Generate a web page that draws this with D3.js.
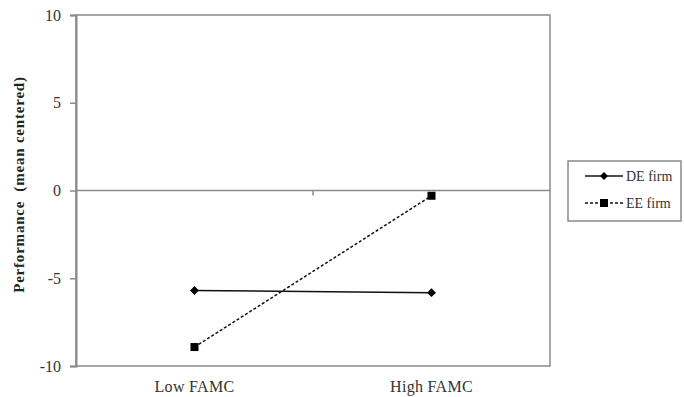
<!DOCTYPE html>
<html><head><meta charset="utf-8">
<script src="https://cdn.jsdelivr.net/npm/d3@7"></script>
<style>body{margin:0;background:#fff}svg{display:block}</style>
</head><body>
<svg id="c" width="684" height="397"></svg>
<script>
const categories = ["Low FAMC", "High FAMC"];
const seriesNames = ["DE firm", "EE firm"];
const deValues = [-5.7, -5.82];
const eeValues = [-8.92, -0.3];
const yTicks = [-10, -5, 0, 5, 10];

const svg = d3.select("#c");
const L = 76, R = 550, T = 15, B = 366;
const font = "Liberation Serif, Times New Roman, serif";
const x = d3.scalePoint().domain(categories).range([L, R]).padding(0.5);
const y = d3.scaleLinear().domain([-10, 10]).range([B, T]);
const axisCol = "#8a8a8a";

// plot border
svg.append("rect").attr("x", L).attr("y", T).attr("width", R - L).attr("height", B - T)
  .attr("fill", "none").attr("stroke", axisCol).attr("stroke-width", 1.5);

// y axis
const ya = svg.append("g").attr("transform", `translate(${L},0)`)
  .call(d3.axisLeft(y).tickValues(yTicks).tickSize(6).tickPadding(9).tickFormat(d => String(d)));
ya.select(".domain").attr("stroke", axisCol).attr("stroke-width", 2);
ya.selectAll(".tick line").attr("stroke", axisCol).attr("stroke-width", 1.5);
ya.selectAll("text").attr("font-family", font).attr("font-size", 16).attr("fill", "#333");

// zero line as category axis with ticks at category boundaries
svg.append("line").attr("x1", L).attr("x2", R).attr("y1", y(0)).attr("y2", y(0))
  .attr("stroke", axisCol).attr("stroke-width", 1.5);
const step = x.step();
svg.selectAll(".ctick").data(categories.slice(1)).enter().append("line")
  .attr("x1", d => x(d) - step / 2).attr("x2", d => x(d) - step / 2)
  .attr("y1", y(0)).attr("y2", y(0) + 5).attr("stroke", axisCol).attr("stroke-width", 1.5);

// category labels
svg.selectAll(".clab").data(categories).enter().append("text")
  .attr("x", d => x(d)).attr("y", 392).attr("text-anchor", "middle")
  .attr("font-family", font).attr("font-size", 16).attr("letter-spacing", 0.3).attr("fill", "#333")
  .text(d => d);

// y title
svg.append("text").attr("transform", `translate(24,${(T + B) / 2 - 6}) rotate(-90)`)
  .attr("text-anchor", "middle").attr("font-family", font).attr("font-size", 15)
  .attr("font-weight", "bold").attr("letter-spacing", 0.8).attr("fill", "#222")
  .style("white-space", "pre")
  .text("Performance  (mean centered)");

const line = d3.line().x((d, i) => x(categories[i])).y(d => y(d));

// DE firm
svg.append("path").attr("d", line(deValues)).attr("fill", "none").attr("stroke", "#111").attr("stroke-width", 1.5);
svg.selectAll(".de").data(deValues).enter().append("path")
  .attr("transform", (d, i) => `translate(${x(categories[i])},${y(d)})`)
  .attr("d", d3.symbol(d3.symbolDiamond2, 50)()).attr("fill", "#000");

// EE firm
svg.append("path").attr("d", line(eeValues)).attr("fill", "none").attr("stroke", "#111")
  .attr("stroke-width", 1.5).attr("stroke-dasharray", "3,2");
svg.selectAll(".ee").data(eeValues).enter().append("rect")
  .attr("x", (d, i) => x(categories[i]) - 4).attr("y", d => y(d) - 4)
  .attr("width", 8).attr("height", 8).attr("fill", "#000");

// legend
const lg = svg.append("g");
lg.append("rect").attr("x", 568).attr("y", 161).attr("width", 113).attr("height", 60)
  .attr("fill", "#fff").attr("stroke", axisCol).attr("stroke-width", 1.5);
seriesNames.forEach((s, i) => {
  const yy = 176 + i * 27;
  lg.append("line").attr("x1", 585).attr("x2", 623).attr("y1", yy).attr("y2", yy)
    .attr("stroke", "#111").attr("stroke-width", 1.5)
    .attr("stroke-dasharray", i === 1 ? "3,2" : null);
  if (i === 0) {
    lg.append("path").attr("transform", `translate(604,${yy})`)
      .attr("d", d3.symbol(d3.symbolDiamond2, 40)()).attr("fill", "#000");
  } else {
    lg.append("rect").attr("x", 600).attr("y", yy - 4).attr("width", 8).attr("height", 8).attr("fill", "#000");
  }
  lg.append("text").attr("x", 626).attr("y", yy + 5).attr("font-family", font)
    .attr("font-size", 14).attr("fill", "#333").text(s);
});
</script>
</body></html>
